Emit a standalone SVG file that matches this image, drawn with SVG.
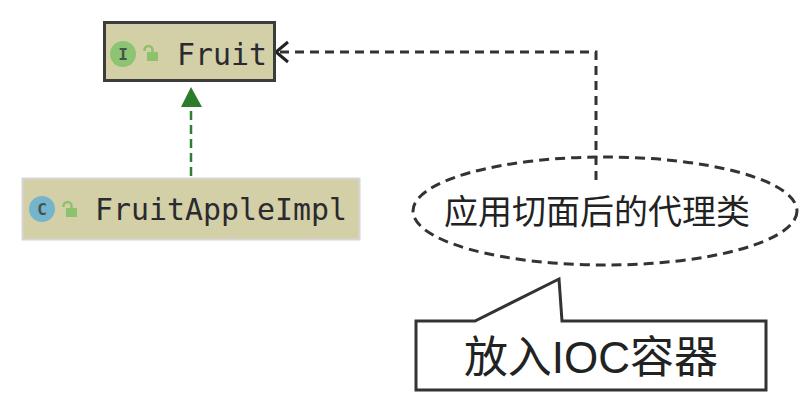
<svg xmlns="http://www.w3.org/2000/svg" width="810" height="410" viewBox="0 0 810 410">
<style>
.mono{font-family:"DejaVu Sans Mono","Liberation Mono",monospace;font-size:29.9px;fill:#2a2a30}
.cjk{font-family:"Liberation Sans","Noto Sans CJK SC",sans-serif;fill:#222}
.icon{font-family:"DejaVu Sans Mono",monospace;font-size:16px;font-weight:bold;fill:#44524a;text-anchor:middle}
.lock{fill:#8cc26c}
.lockarc{fill:none;stroke:#8cc26c;stroke-width:2.500}
.dash{fill:none;stroke:#333;stroke-width:3;stroke-dasharray:9 6}
</style>
<rect width="810" height="410" fill="#fff"/>
<g id="connectors">
<path d="M191 176V107" fill="none" stroke="#2f7f2f" stroke-width="2.500" stroke-dasharray="9 5"/>
<path d="M191 87L202 107H181Z" fill="#2b7d2b"/>
<path class="dash" d="M596 180V52H278"/>
<path d="M288 42L276 52L288 62" fill="none" stroke="#222" stroke-width="3"/>
</g>
<g id="fruit">
<rect x="104.500" y="22.500" width="170" height="58" fill="#d3cfa6" stroke="#3c3c3c" stroke-width="3"/>
<circle cx="123" cy="54" r="13" fill="#8dc474"/>
<text class="icon" x="123" y="59.500">I</text>
<rect x="147" y="52" width="11" height="9" class="lock"/>
<path class="lockarc" d="M144.500 51V50a4 4 0 0 1 8 0V52"/>
<text class="mono" x="177" y="65">Fruit</text>
</g>
<g id="fruitappleimpl">
<rect x="22.500" y="178.500" width="337" height="61" fill="#d3cfa6" stroke="#d6d6d6" stroke-width="2"/>
<circle cx="42" cy="209" r="13" fill="#74b4cc"/>
<text class="icon" x="42" y="214.500">C</text>
<rect x="66" y="208" width="11" height="9" class="lock"/>
<path class="lockarc" d="M63.500 207V206a4 4 0 0 1 8 0V208"/>
<text class="mono" x="95" y="220">FruitAppleImpl</text>
</g>
<g id="proxy">
<ellipse cx="605" cy="211" rx="192" ry="54" fill="none" stroke="#333" stroke-width="3" stroke-dasharray="10 6"/>
<text class="cjk" x="597" y="224" font-size="34" text-anchor="middle">应用切面后的代理类</text>
</g>
<g id="callout">
<path d="M416 321H475L559 279L562 321H766V390H416Z" fill="#fff" stroke="#333" stroke-width="3"/>
<text class="cjk" x="591" y="373" font-size="44" text-anchor="middle">放入IOC容器</text>
</g>
</svg>
